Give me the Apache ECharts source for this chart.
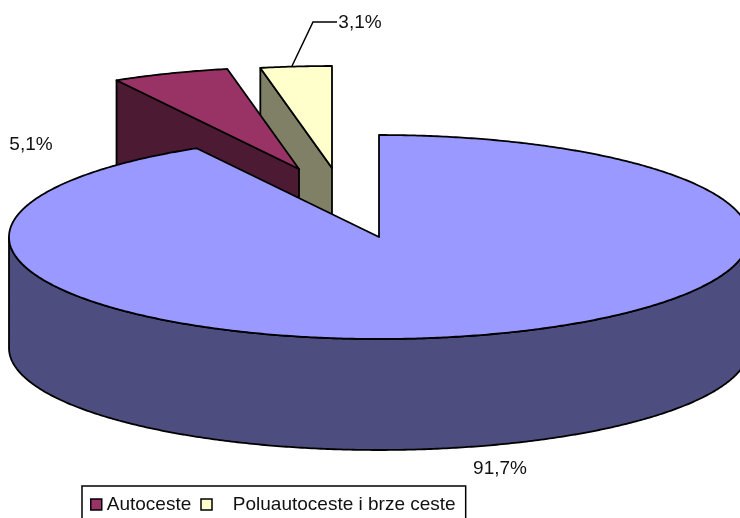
<!DOCTYPE html>
<html><head><meta charset="utf-8">
<style>html,body{margin:0;padding:0;background:#fff}#c{width:740px;height:518px}</style>
<script src="https://cdn.jsdelivr.net/npm/echarts@6/dist/echarts.min.js"></script>
</head><body><div id="c"></div>
<script>
var categories = ['Ostale ceste', 'Autoceste', 'Poluautoceste i brze ceste'];
var shares = [91.7, 5.1, 3.1];
var percentLabels = ['91,7%', '5,1%', '3,1%'];
var legendNames = ['Autoceste', 'Poluautoceste i brze ceste'];

var CX = 379, CY = 237, RX = 370, RY = 102, DEPTH = 111;
var offsets = [[0, 0], [-80, -68], [-47, -69]];
var topColors = ['#9999FF', '#993366', '#FFFFCC'];
var wallColors = ['#4D4D80', '#4D1A33', '#808066'];
var labelPos = [[500, 469], [31, 145], [360, 23]];
var FONT = '19px "Liberation Sans", Arial, sans-serif';
var total = shares.reduce(function (a, b) { return a + b; }, 0);

function pt(deg, ox, oy, drop) {
  var r = deg * Math.PI / 180;
  return [CX + ox + RX * Math.sin(r), CY + oy - RY * Math.cos(r) + (drop || 0)];
}
function arc(from, to, ox, oy, drop) {
  var out = [], n = Math.max(2, Math.ceil(Math.abs(to - from) * 2));
  for (var i = 0; i <= n; i++) out.push(pt(from + (to - from) * i / n, ox, oy, drop));
  return out;
}
var stroke = { stroke: '#000', lineWidth: 1.8, lineJoin: 'round' };
function st(fill) { return Object.assign({ fill: fill }, stroke); }

function render(params, api) {
  var idx = params.seriesIndex === 2 ? 0 : params.seriesIndex === 1 ? 1 : 2;
  var value = api.value(0);
  var before = 0;
  for (var k = 0; k < idx; k++) before += shares[k];
  var start = before / total * 360, end = (before + value) / total * 360;
  var o = offsets[idx], ox = o[0], oy = o[1];
  var apex = [CX + ox, CY + oy];
  var kids = [];
  if (idx === 0) {
    var topFront = arc(90, 270, ox, oy, 0);
    var botFront = arc(270, 90, ox, oy, DEPTH);
    kids.push({ type: 'polygon', shape: { points: topFront.concat(botFront) }, style: st(wallColors[idx]) });
  } else {
    var a = pt(start, ox, oy, 0);
    kids.push({ type: 'polygon',
      shape: { points: [a, apex, [apex[0], apex[1] + DEPTH], [a[0], a[1] + DEPTH]] },
      style: st(wallColors[idx]) });
  }
  kids.push({ type: 'polygon', shape: { points: arc(start, end, ox, oy, 0).concat([apex]) }, style: st(topColors[idx]) });
  if (idx === 2) {
    kids.push({ type: 'polyline', shape: { points: [[292, 66], [313, 22], [337, 22]] },
      style: { stroke: '#000', lineWidth: 1.5, fill: null } });
  }
  kids.push({ type: 'text', style: { text: percentLabels[idx], x: labelPos[idx][0], y: labelPos[idx][1],
    font: FONT, fill: '#111', align: 'center', verticalAlign: 'middle' }, z2: 100 });
  return { type: 'group', children: kids };
}

function mk(i) {
  return { type: 'custom', name: categories[i], coordinateSystem: 'none', renderItem: render,
    itemStyle: { color: topColors[i] }, data: [[shares[i]]], silent: true };
}

var chart = echarts.init(document.getElementById('c'), null, { renderer: 'canvas' });
chart.setOption({
  animation: false,
  backgroundColor: '#fff',
  legend: {
    data: legendNames, left: 82, top: 486, orient: 'horizontal', selectedMode: false,
    padding: [9, 10, 14, 8], itemGap: 9, itemWidth: 11, itemHeight: 11, icon: 'rect',
    borderColor: '#000', borderWidth: 1.5, backgroundColor: '#fff',
    itemStyle: { borderColor: '#000', borderWidth: 1.5 },
    textStyle: { fontFamily: '"Liberation Sans", Arial, sans-serif', fontSize: 19, color: '#111', padding: [0, 0, 0, 0] },
    formatter: function (n) { return n === legendNames[1] ? '   ' + n : n; }
  },
  series: [mk(2), mk(1), mk(0)]
});
</script></body></html>
